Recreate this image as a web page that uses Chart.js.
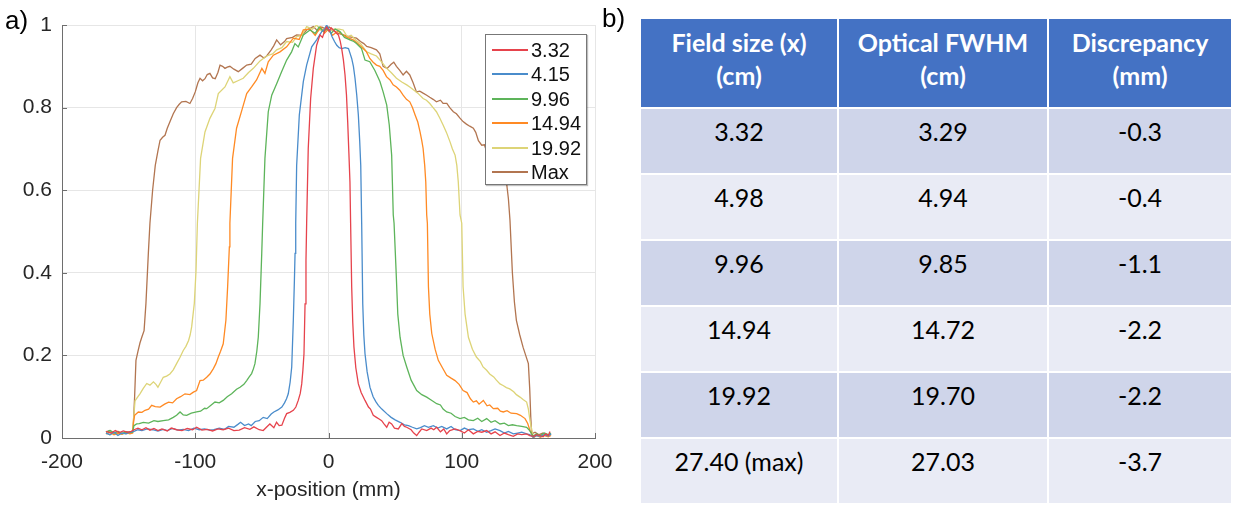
<!DOCTYPE html>
<html>
<head>
<meta charset="utf-8">
<script src="https://cdn.jsdelivr.net/npm/chart.js@4/dist/chart.umd.min.js"></script>
<style>
  html, body { margin:0; padding:0; background:#fff; width:1233px; height:508px; overflow:hidden; }
  #wrap { position:relative; width:1233px; height:508px; }
  #chartBox { position:absolute; left:0; top:0; width:640px; height:508px; }
  .panel { position:absolute; font-family:"Liberation Sans", Arial, sans-serif; color:#000; }
  #labA { left:5px; top:5px; font-size:26px; }
  #labB { left:602px; top:3px; font-size:26px; }
  #legend { position:absolute; left:485px; top:34px; width:100px; height:149px; border:1px solid #777; background:#fff; z-index:5; box-shadow:1px 1px 1px rgba(0,0,0,0.25); }
  .lg-line { position:absolute; left:6px; width:36px; height:2px; }
  .lg-text { position:absolute; left:45px; font-family:"Liberation Sans", Arial, sans-serif; font-size:20px; line-height:24px; color:#111; }
  #table { position:absolute; left:641px; top:19px; display:grid; grid-template-columns:196px 208px 182px; grid-template-rows:88px repeat(6, 64px); gap:2px; background:#fff; font-family:Lato, "Open Sans", sans-serif; z-index:6; }
  .th { background:#4472C4; color:#fff; font-weight:bold; font-size:25px; line-height:33px; text-align:center; padding-top:7px; box-sizing:border-box; }
  .td { font-size:25px; line-height:30px; text-align:center; padding-top:7px; box-sizing:border-box; color:#000; }
  .odd { background:#CFD5EA; }
  .even { background:#E9EBF5; }
</style>
</head>
<body>
<div id="wrap">
  <div id="chartBox"><canvas id="c"></canvas></div>
  <div id="legend"></div>
  <div class="panel" id="labA">a)</div>
  <div class="panel" id="labB">b)</div>
  <div id="table"></div>
</div>
<script>
// ---------- Panel a) data: normalised profiles, x in mm ----------
const seriesNames = ["3.32", "4.15", "9.96", "14.94", "19.92", "Max"];
const seriesColors = ["#E6434C", "#4A8CCB", "#5DB45A", "#FF8A24", "#DDD477", "#B27550"];
const xTicks = [-200, -100, 0, 100, 200];
const yTicks = [0, 0.2, 0.4, 0.6, 0.8, 1];

const prof332 = [[-167,0.016],[-163,0.012],[-160,0.018],[-157,0.013],[-154,0.017],[-151,0.014],[-148,0.016],[-146,0.02],[-143,0.024],[-140,0.02],[-137,0.025],[-134,0.019],[-131,0.023],[-128,0.018],[-125,0.022],[-121,0.017],[-118,0.024],[-114,0.02],[-110,0.018],[-106,0.023],[-102,0.02],[-99,0.026],[-95,0.019],[-91,0.021],[-87,0.017],[-83,0.022],[-79,0.02],[-75,0.024],[-71,0.018],[-67,0.019],[-63,0.025],[-59,0.021],[-56,0.027],[-52,0.02],[-49,0.018],[-46,0.028],[-44,0.034],[-41,0.025],[-39,0.038],[-37,0.03],[-35,0.031],[-33,0.048],[-31.4,0.059],[-29,0.062],[-26.4,0.067],[-24.5,0.075],[-22.7,0.091],[-21.2,0.108],[-20.1,0.131],[-19.2,0.165],[-18.4,0.204],[-17.6,0.325],[-16.9,0.43],[-16.4,0.52],[-15.2,0.701],[-13.4,0.822],[-11.4,0.895],[-8.9,0.951],[-6.4,0.976],[-4.5,0.97],[-2.6,0.988],[-1.4,0.995],[0.5,0.985],[2,0.993],[3.6,0.988],[5.5,0.982],[7.4,0.976],[8.7,0.962],[9.9,0.943],[11.2,0.915],[12.4,0.879],[13.5,0.83],[14.4,0.766],[15.3,0.69],[16.1,0.62],[16.6,0.52],[17.4,0.366],[18.2,0.28],[19.1,0.22],[20.5,0.17],[22.4,0.131],[24.5,0.11],[27.4,0.091],[30,0.075],[31.5,0.07],[33.6,0.055],[36,0.05],[38,0.046],[39.9,0.042],[41.5,0.035],[43.7,0.026],[45.5,0.038],[47.4,0.034],[49.5,0.024],[52.4,0.022],[55,0.035],[57,0.028],[58.7,0.026],[62,0.02],[64,0.012],[66.2,0.006],[68,0.014],[70,0.022],[73.7,0.018],[77,0.024],[79,0.02],[81.2,0.026],[84,0.015],[86.5,0.022],[88.7,0.01],[91,0.018],[95,0.022],[98.7,0.018],[102,0.012],[105,0.02],[108.7,0.01],[112,0.016],[115,0.014],[118.7,0.018],[122,0.01],[125,0.015],[128.7,0.006],[132,0.012],[135,0.008],[138.7,0.004],[142,0.01],[145,0.008],[148.7,0.01],[151,0.006],[154,0.004],[156,0.008],[158.7,0.006],[161,0.003],[163,0.01],[165,0.006],[166.2,0.016]];

const prof415 = [[-167,0.012],[-164,0.008],[-161,0.014],[-158,0.006],[-155,0.012],[-152,0.01],[-149,0.014],[-146,0.016],[-143,0.02],[-140,0.018],[-136,0.022],[-132,0.02],[-128,0.017],[-124,0.021],[-121,0.018],[-117,0.023],[-113,0.019],[-109,0.021],[-105,0.018],[-101,0.024],[-97,0.02],[-93,0.022],[-89,0.019],[-86,0.02],[-82,0.024],[-78,0.021],[-75,0.028],[-71,0.026],[-68,0.033],[-66,0.038],[-63,0.03],[-60,0.034],[-58,0.03],[-55,0.04],[-52,0.042],[-49,0.05],[-46,0.047],[-43,0.058],[-41,0.063],[-38,0.068],[-35,0.075],[-33,0.085],[-31.5,0.095],[-30.2,0.107],[-28.8,0.135],[-27.6,0.172],[-26.4,0.285],[-25.6,0.38],[-25.1,0.447],[-24.6,0.52],[-23.9,0.66],[-21.9,0.782],[-18.9,0.863],[-16.4,0.903],[-12.6,0.947],[-8.9,0.964],[-5.1,0.984],[-3,0.99],[-1.4,1.0],[0,0.992],[1.2,0.985],[2.6,0.972],[4.5,0.96],[6.2,0.951],[8,0.945],[10,0.943],[12.5,0.945],[15,0.943],[16.3,0.93],[17.4,0.919],[18.7,0.9],[19.9,0.871],[21.2,0.83],[22.4,0.782],[23.4,0.72],[24.2,0.66],[24.9,0.52],[25.7,0.325],[26.5,0.25],[27.4,0.204],[29,0.16],[31.1,0.123],[33.5,0.1],[35.5,0.088],[37.4,0.079],[40,0.07],[43.7,0.059],[47,0.05],[50,0.044],[53.7,0.038],[57,0.032],[60,0.03],[63,0.026],[66.2,0.022],[69,0.025],[72,0.03],[75,0.026],[78.7,0.03],[82,0.024],[85,0.028],[88.7,0.022],[92,0.028],[95,0.02],[98.7,0.018],[102,0.024],[105,0.02],[108.7,0.022],[112,0.016],[115,0.02],[118.7,0.014],[122,0.018],[125,0.022],[128.7,0.018],[132,0.012],[135,0.016],[138.7,0.01],[142,0.012],[145,0.014],[148.7,0.01],[151,0.008],[153.7,0.002],[156,0.006],[159,0.004],[162,0.008],[165,0.005],[167,0.01]];

const prof996 = [[-167,0.014],[-164,0.018],[-161,0.012],[-158,0.016],[-155,0.01],[-152,0.015],[-149,0.013],[-147,0.014],[-146,0.03],[-144,0.034],[-142,0.035],[-139,0.038],[-135,0.036],[-131,0.042],[-128,0.04],[-124,0.042],[-120,0.044],[-116.5,0.05],[-114,0.055],[-111.4,0.063],[-109,0.056],[-106.4,0.055],[-103,0.06],[-99,0.063],[-96,0.065],[-93,0.072],[-91.4,0.071],[-88,0.08],[-85.2,0.087],[-82,0.085],[-79,0.091],[-76,0.1],[-72.7,0.107],[-69,0.118],[-66.4,0.123],[-63.5,0.13],[-61.4,0.139],[-59.5,0.148],[-57.7,0.156],[-56.3,0.168],[-55.2,0.18],[-53.8,0.21],[-52.7,0.244],[-51.4,0.325],[-50.1,0.447],[-49.4,0.52],[-47.7,0.677],[-45.2,0.79],[-42.6,0.83],[-38.9,0.858],[-35.2,0.887],[-31.4,0.915],[-27.7,0.935],[-25.2,0.955],[-22.7,0.947],[-18.9,0.976],[-13.9,0.988],[-10,0.98],[-7,0.995],[-4,0.985],[-1,0.99],[2,0.98],[5,0.99],[8.6,0.984],[12,0.97],[16.1,0.964],[19,0.96],[21,0.955],[24.8,0.943],[27.4,0.915],[31,0.911],[34.8,0.89],[38.6,0.863],[41,0.838],[43.7,0.806],[45.6,0.758],[47.4,0.685],[48.6,0.54],[49.2,0.52],[50.7,0.406],[52,0.3],[53.7,0.244],[56,0.2],[58.7,0.172],[62,0.14],[66.2,0.115],[70,0.105],[73.7,0.099],[77,0.092],[81.2,0.083],[84,0.08],[86,0.07],[88.7,0.063],[92,0.06],[95,0.052],[98.7,0.047],[102,0.05],[105,0.044],[108.7,0.042],[112,0.048],[115,0.04],[118.7,0.047],[122,0.038],[125,0.042],[128.7,0.034],[132,0.036],[135,0.03],[138,0.032],[141.2,0.03],[145,0.028],[148.7,0.026],[151,0.018],[153.7,0.004],[156,0.01],[159,0.006],[162,0.012],[165,0.008],[167,0.012]];

const prof1494 = [[-167,0.01],[-164,0.014],[-161,0.008],[-158,0.012],[-155,0.009],[-152,0.013],[-149,0.01],[-147,0.012],[-146.3,0.04],[-145.5,0.055],[-142.7,0.063],[-140,0.062],[-137.7,0.067],[-135,0.07],[-132.7,0.079],[-130,0.076],[-126.4,0.075],[-123,0.082],[-120,0.087],[-117,0.085],[-114,0.095],[-111,0.1],[-107.7,0.107],[-104,0.105],[-101.4,0.111],[-99,0.115],[-96.4,0.139],[-94,0.14],[-91.4,0.147],[-89,0.155],[-86.4,0.168],[-84.5,0.18],[-82.7,0.196],[-81,0.21],[-79,0.228],[-77,0.285],[-75.7,0.366],[-74.4,0.463],[-74,0.52],[-72,0.677],[-69,0.75],[-65,0.794],[-61.4,0.834],[-57.7,0.85],[-54,0.867],[-50,0.895],[-47.7,0.883],[-45.2,0.911],[-41.4,0.927],[-36.4,0.935],[-31.4,0.947],[-26.4,0.968],[-22,0.965],[-18.9,0.988],[-13.9,0.99],[-10,0.975],[-6,0.995],[-3,0.98],[0,0.99],[3,0.975],[7,0.985],[11,0.976],[14,0.97],[18.5,0.964],[22,0.955],[26,0.943],[28.5,0.935],[31,0.919],[33.5,0.91],[36,0.903],[38.5,0.9],[41,0.89],[43.5,0.875],[46.2,0.867],[48.5,0.855],[51,0.85],[53.5,0.842],[56,0.83],[58.5,0.82],[61,0.814],[63,0.8],[65,0.782],[67,0.765],[68.7,0.741],[70,0.72],[71,0.701],[72.2,0.66],[73,0.62],[73.7,0.54],[74.2,0.52],[75,0.366],[76,0.3],[77.5,0.253],[80,0.215],[82.4,0.188],[85.5,0.17],[88.7,0.152],[92,0.145],[95,0.139],[98,0.13],[101,0.115],[104,0.11],[106.5,0.095],[108.7,0.087],[111,0.09],[113,0.082],[116.2,0.091],[119,0.078],[121,0.08],[123.7,0.071],[127,0.072],[129,0.065],[131.2,0.063],[134,0.066],[137,0.06],[141.2,0.059],[144,0.055],[147.5,0.047],[149.5,0.035],[151.2,0.018],[153.7,0.0],[156,0.006],[159,0.002],[162,0.006],[165,0.003],[167,0.006]];

const prof1992 = [[-167,0.012],[-164,0.008],[-161,0.013],[-158,0.009],[-155,0.014],[-152,0.01],[-149,0.012],[-147,0.013],[-146.2,0.05],[-145.2,0.09],[-143,0.1],[-141.5,0.107],[-139,0.12],[-136.4,0.132],[-134,0.128],[-131.4,0.136],[-129.5,0.13],[-128,0.123],[-126,0.135],[-124,0.147],[-121.5,0.15],[-119,0.155],[-116.5,0.165],[-114,0.18],[-111.5,0.195],[-109,0.212],[-107,0.222],[-105,0.236],[-103.8,0.25],[-102.7,0.269],[-100.7,0.326],[-99.4,0.406],[-98.4,0.52],[-96,0.677],[-92.7,0.741],[-89,0.774],[-85.2,0.798],[-82.7,0.834],[-77.7,0.85],[-74,0.875],[-71.5,0.86],[-68,0.865],[-64,0.871],[-60,0.885],[-56.4,0.895],[-51.4,0.913],[-46.4,0.925],[-42,0.93],[-38.9,0.94],[-35,0.945],[-31.4,0.96],[-27,0.958],[-23.9,0.972],[-20,0.975],[-16.4,0.996],[-12,0.99],[-9,1.0],[-5,0.985],[-2,0.995],[1,0.985],[4,0.99],[8,0.99],[11,0.988],[14,0.972],[17,0.975],[21,0.962],[24,0.955],[28.7,0.935],[32,0.93],[36,0.925],[40,0.91],[43.7,0.895],[47,0.885],[51,0.871],[55,0.862],[58.7,0.855],[61,0.85],[63.7,0.843],[67,0.835],[71,0.822],[73.5,0.818],[76,0.81],[78.5,0.8],[81,0.79],[83.5,0.775],[86,0.758],[88.5,0.74],[91.2,0.717],[93,0.7],[95,0.685],[96.3,0.66],[97.4,0.62],[98.7,0.54],[100,0.52],[101,0.366],[102.5,0.3],[105,0.244],[108,0.215],[111,0.196],[114,0.185],[116,0.172],[118.7,0.164],[121,0.155],[124,0.148],[126,0.14],[128.7,0.131],[131,0.127],[133.5,0.122],[136,0.119],[139,0.112],[141,0.105],[143.7,0.099],[146,0.093],[148.7,0.087],[150,0.07],[151.2,0.042],[152.5,0.02],[153.7,0.004],[156,0.008],[159,0.004],[162,0.009],[165,0.005],[167,0.008]];

const profMax = [[-167,0.014],[-164,0.018],[-161,0.012],[-158,0.016],[-155,0.011],[-152,0.015],[-149,0.013],[-147,0.015],[-146.5,0.03],[-145.5,0.1],[-144.5,0.188],[-143,0.21],[-141.5,0.23],[-140,0.245],[-138.4,0.26],[-137,0.326],[-135.2,0.447],[-134,0.52],[-132,0.6],[-130,0.66],[-128,0.695],[-126.4,0.721],[-124.5,0.728],[-122.7,0.733],[-121,0.75],[-119,0.766],[-116.5,0.785],[-114,0.8],[-112,0.808],[-110.2,0.814],[-107,0.815],[-104,0.81],[-102,0.822],[-100,0.838],[-98,0.86],[-96.4,0.871],[-94.5,0.865],[-92.7,0.87],[-91,0.88],[-89,0.883],[-87,0.872],[-85,0.87],[-83,0.885],[-81.4,0.903],[-79.5,0.9],[-77.7,0.895],[-76,0.898],[-74,0.9],[-71,0.893],[-67.7,0.887],[-64.5,0.895],[-61.4,0.903],[-58,0.905],[-55,0.919],[-51.4,0.927],[-48.5,0.92],[-46.4,0.925],[-43,0.94],[-41,0.95],[-38.9,0.964],[-36,0.952],[-33,0.96],[-31.4,0.967],[-27,0.97],[-23.9,0.976],[-20,0.975],[-16.4,0.988],[-11.4,0.996],[-8,0.985],[-5,0.995],[-2,0.99],[0.5,0.995],[3.4,0.988],[7,0.98],[11,0.976],[15,0.972],[18,0.97],[21,0.968],[24,0.96],[26.5,0.955],[28.7,0.948],[32,0.945],[36,0.94],[38.5,0.93],[41,0.9],[44,0.895],[47,0.905],[49,0.91],[51,0.9],[53.5,0.89],[56,0.879],[58.5,0.888],[61,0.879],[63.5,0.86],[66,0.838],[68.5,0.84],[71,0.835],[73.7,0.83],[76,0.825],[78.5,0.82],[81,0.814],[84,0.818],[86,0.81],[88.8,0.81],[91,0.8],[93.7,0.79],[96,0.785],[98.5,0.775],[101,0.766],[103.5,0.76],[106,0.755],[108.7,0.75],[110.5,0.74],[112.5,0.72],[115,0.709],[117,0.71],[119,0.69],[122,0.675],[125,0.665],[128,0.65],[131,0.635],[133.7,0.616],[135,0.58],[136.2,0.527],[138,0.4],[139.5,0.33],[141,0.285],[143.5,0.25],[146,0.22],[148,0.2],[150,0.18],[151,0.12],[151.8,0.05],[152.5,0.01],[155,0.014],[158,0.008],[161,0.012],[164,0.006],[167,0.01]];

const profiles = [prof332, prof415, prof996, prof1494, prof1992, profMax];

// ---------- Panel b) table data ----------
const tableHeaders = ["Field size (x)<br>(cm)", "Optical FWHM<br>(cm)", "Discrepancy<br>(mm)"];
const fieldSizes = ["3.32", "4.98", "9.96", "14.94", "19.92", "27.40 (max)"];
const opticalFwhm = ["3.29", "4.94", "9.85", "14.72", "19.70", "27.03"];
const discrepancy = ["-0.3", "-0.4", "-1.1", "-2.2", "-2.2", "-3.7"];

// Build table
const tbl = document.getElementById('table');
tableHeaders.forEach(h => { const d = document.createElement('div'); d.className = 'th'; d.innerHTML = h; tbl.appendChild(d); });
fieldSizes.forEach((fs, i) => {
  [fs, opticalFwhm[i], discrepancy[i]].forEach(v => {
    const d = document.createElement('div');
    d.className = 'td ' + (i % 2 === 0 ? 'odd' : 'even');
    d.textContent = v;
    tbl.appendChild(d);
  });
});

// Build legend
const lg = document.getElementById('legend');
seriesNames.forEach((n, i) => {
  const cy = 15 + i * 24.4;
  const ln = document.createElement('div'); ln.className = 'lg-line';
  ln.style.top = (cy - 1) + 'px'; ln.style.background = seriesColors[i];
  lg.appendChild(ln);
  const tx = document.createElement('div'); tx.className = 'lg-text';
  tx.style.top = (cy - 12) + 'px'; tx.textContent = n;
  lg.appendChild(tx);
});

const axisColor = '#6e6e6e';
const innerTicks = {
  id: 'innerTicks',
  afterDatasetsDraw(chart) {
    const {ctx, chartArea, scales} = chart;
    ctx.save();
    ctx.strokeStyle = axisColor; ctx.lineWidth = 1;
    scales.x.ticks.forEach(t => {
      const px = Math.round(scales.x.getPixelForValue(t.value)) + 0.5;
      ctx.beginPath(); ctx.moveTo(px, chartArea.bottom); ctx.lineTo(px, chartArea.bottom - 5); ctx.stroke();
    });
    scales.y.ticks.forEach(t => {
      const py = Math.round(scales.y.getPixelForValue(t.value)) + 0.5;
      ctx.beginPath(); ctx.moveTo(chartArea.left, py); ctx.lineTo(chartArea.left + 5, py); ctx.stroke();
    });
    ctx.restore();
  }
};

const tickFont = { family: '"Liberation Sans", Arial, sans-serif', size: 21 };

new Chart(document.getElementById('c'), {
  type: 'line',
  data: {
    datasets: profiles.map((p, i) => ({
      label: seriesNames[i],
      data: p.map(([x, y]) => ({ x, y })),
      borderColor: seriesColors[i],
      borderWidth: 1.3,
      pointRadius: 0,
      tension: 0,
      fill: false
    }))
  },
  options: {
    responsive: true,
    maintainAspectRatio: false,
    animation: false,
    layout: { padding: { top: 25, right: 45, left: 0, bottom: 0 } },
    plugins: { legend: { display: false }, tooltip: { enabled: false } },
    scales: {
      x: {
        type: 'linear', min: -200, max: 200,
        afterBuildTicks: s => { s.ticks = xTicks.map(v => ({ value: v })); },
        afterFit: s => { s.height = 70; },
        grid: { color: '#e6e6e6', lineWidth: 1, drawTicks: false },
        border: { color: axisColor, width: 1 },
        ticks: { font: tickFont, color: '#262626', padding: 12, maxRotation: 0, callback: v => String(v) },
        title: { display: true, text: 'x-position (mm)', font: tickFont, color: '#262626', padding: { bottom: 5, top: 0 } }
      },
      y: {
        type: 'linear', min: 0, max: 1,
        afterBuildTicks: s => { s.ticks = yTicks.map(v => ({ value: v })); },
        afterFit: s => { s.width = 62; },
        grid: { color: '#e6e6e6', lineWidth: 1, drawTicks: false },
        border: { color: axisColor, width: 1 },
        ticks: { font: tickFont, color: '#262626', padding: 10, callback: v => String(v) }
      }
    }
  },
  plugins: [innerTicks]
});
</script>
</body>
</html>
